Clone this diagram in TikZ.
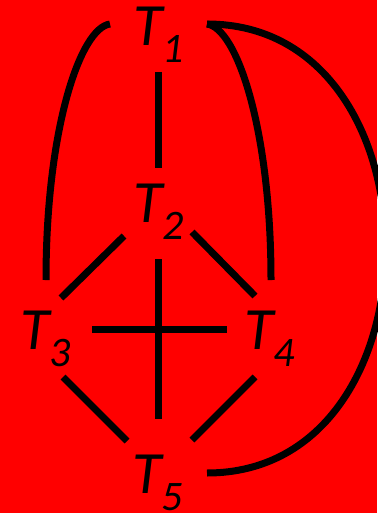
\documentclass[tikz,border=0pt]{standalone}
\usepackage{fontspec}
\setmainfont{Carlito}
\newcommand{\tache}[1]{T\raisebox{-17pt}{\fontsize{42}{42}\selectfont #1}}
\begin{document}
\begin{tikzpicture}[x=1pt, y=-1pt,
    task_style/.style={anchor=base west, inner sep=0pt, font=\fontsize{60}{60}\selectfont\itshape},
    edge_style/.style={line width=7pt, black}
]
% fond
\fill[red] (0,0) rectangle (377,513);
\useasboundingbox (0,0) rectangle (377,513);
% sommets
\node[task_style] (t1) at (133,46) {\tache{1}};
\node[task_style] (t2) at (133,222) {\tache{2}};
\node[task_style] (t3) at (20,349) {\tache{3}};
\node[task_style] (t4) at (244,349) {\tache{4}};
\node[task_style] (t5) at (132,493) {\tache{5}};
% aretes droites
\draw[edge_style] ([shift={(25,26)}]t1.base west) -- ([shift={(25,-54)}]t2.base west);
\draw[edge_style] ([shift={(-9,14)}]t2.base west) -- ([shift={(41,-51)}]t3.base west);
\draw[edge_style] ([shift={(59,10)}]t2.base west) -- ([shift={(11,-53)}]t4.base west);
\draw[edge_style] ([shift={(25,37)}]t2.base west) -- ([shift={(26,-74)}]t5.base west);
\draw[edge_style] ([shift={(72,-20)}]t3.base west) -- ([shift={(-17,-20)}]t4.base west);
\draw[edge_style] ([shift={(43,28)}]t3.base west) -- ([shift={(-5,-52)}]t5.base west);
\draw[edge_style] ([shift={(11,28)}]t4.base west) -- ([shift={(60,-53)}]t5.base west);
% aretes courbes
\draw[edge_style] ([shift={(-23,-22)}]t1.base west) .. controls ++(-30,4) and ++(0,-150) .. ([shift={(26,-69)}]t3.base west);
\draw[edge_style] ([shift={(74,-22)}]t1.base west) .. controls ++(30,4) and ++(0,-150) .. ([shift={(27,-69)}]t4.base west);
\draw[edge_style] ([shift={(74,-22)}]t1.base west) .. controls ++(238,0) and ++(238,0) .. ([shift={(75,-20)}]t5.base west);
\end{tikzpicture}
\end{document}
